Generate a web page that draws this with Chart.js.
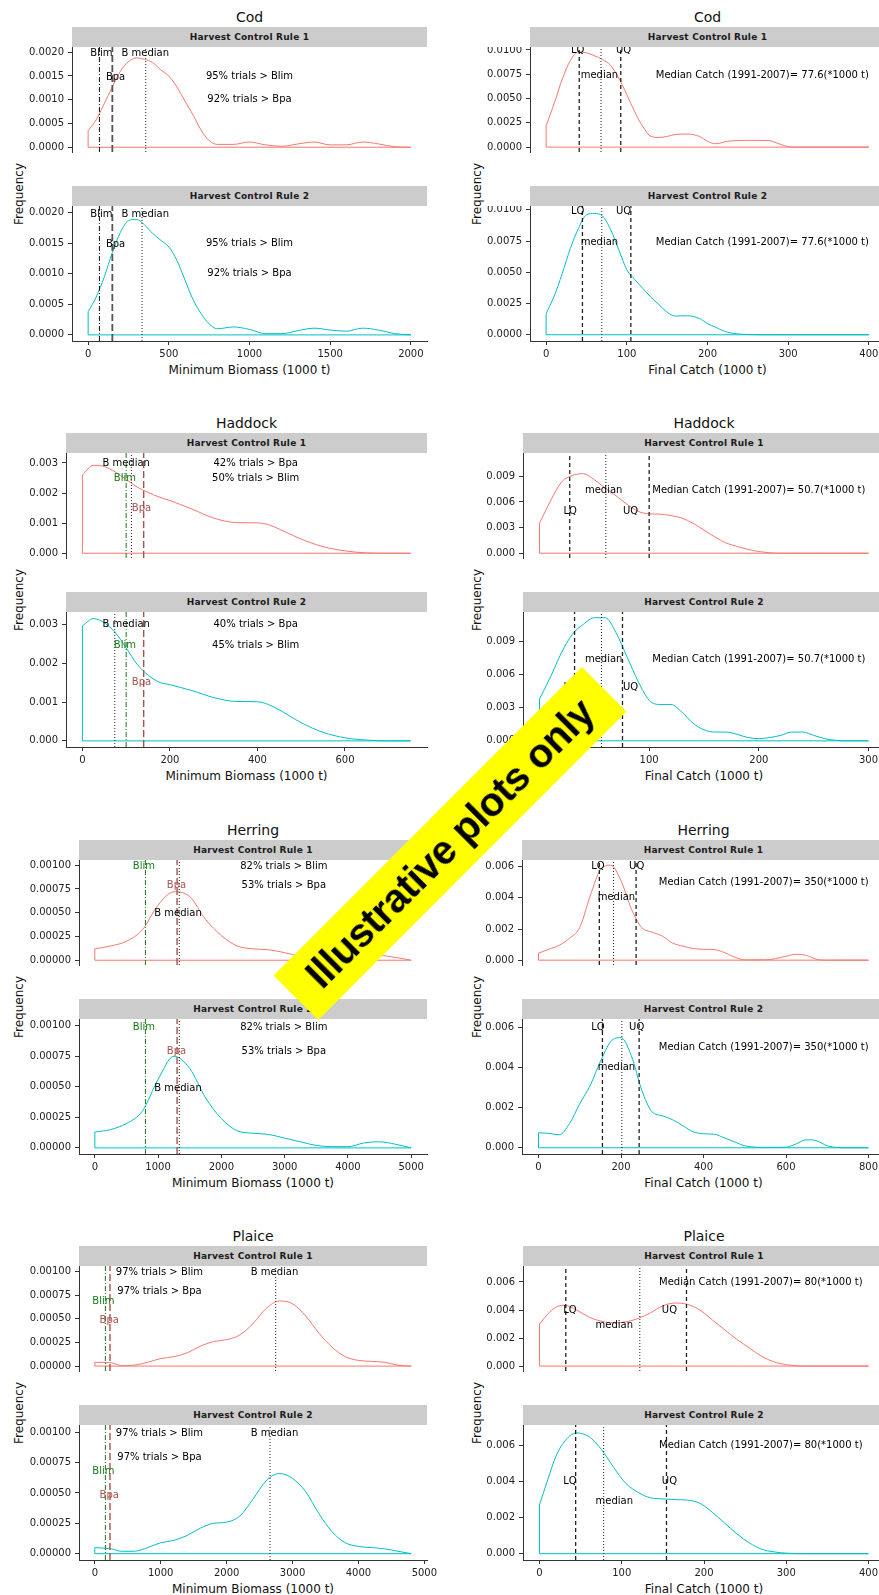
<!DOCTYPE html>
<html>
<head>
<meta charset="utf-8">
<script src="https://cdn.jsdelivr.net/npm/chart.js@4.4.0/dist/chart.umd.min.js"></script>
<style>
  html, body { margin: 0; padding: 0; background: #fff; overflow: hidden; }
  #wrap { position: relative; width: 879px; height: 1595px; overflow: hidden; font-family: "DejaVu Sans", sans-serif; }
  #wrap canvas { position: absolute; }
  .title { position: absolute; font-size: 14px; color: #111; transform: translate(-50%, -50%); white-space: nowrap; }
  .strip { position: absolute; height: 20px; background: #cccccc; color: #1a1a1a; font-size: 9px; font-weight: bold;
           display: flex; align-items: center; justify-content: center; letter-spacing: 0.2px; white-space: nowrap; }
  .ytitle { position: absolute; font-size: 12px; color: #111; transform: translate(-50%, -50%) rotate(-90deg); white-space: nowrap; }
  .xtitle { position: absolute; font-size: 12px; color: #111; transform: translate(-50%, -50%); white-space: nowrap; }
  #banner { position: absolute; left: 232px; top: 812px; width: 436px; height: 63px; background: #ffff00;
            transform: rotate(-45deg); font-family: "Liberation Sans", Arial, sans-serif; font-weight: bold;
            font-size: 40px; line-height: 63px; text-align: center; color: #000; white-space: nowrap; letter-spacing: -0.5px; }
</style>
</head>
<body>
<div id="wrap"></div>
<script>
// ---------------- data: density curves ----------------
// Cod
const codBioX = [0, 50, 100, 150, 200, 250, 300, 350, 400, 450, 500, 550, 600, 650, 700, 750, 800, 900, 1000, 1100, 1200, 1300, 1400, 1500, 1600, 1700, 1800, 1900, 2000];
const codBioHcr1 = [0.00035, 0.00058, 0.00092, 0.00127, 0.00160, 0.00180, 0.00188, 0.00185, 0.00178, 0.00163, 0.00150, 0.00127, 0.00097, 0.00068, 0.00036, 0.00014, 0.00006, 0.00006, 0.00011, 0.00005, 0.00002, 0.00007, 0.00011, 0.00005, 0.00005, 0.00011, 0.00007, 0.00001, 0];
const codBioHcr2 = [0.00038, 0.00062, 0.00095, 0.00135, 0.00168, 0.00187, 0.00189, 0.00180, 0.00166, 0.00155, 0.00144, 0.00122, 0.00090, 0.00058, 0.00035, 0.00018, 0.00010, 0.00013, 0.00009, 0.00002, 0.00002, 0.00007, 0.00011, 0.00008, 0.00006, 0.00011, 0.00008, 0.00002, 0];
const codCatchX = [0, 10, 20, 30, 40, 50, 60, 70, 80, 90, 100, 110, 120, 130, 140, 150, 160, 175, 190, 200, 210, 225, 250, 275, 290, 300, 310, 400];
const codCatchHcr1 = [0.0022, 0.0045, 0.0070, 0.0089, 0.0098, 0.0097, 0.0094, 0.0090, 0.0084, 0.0071, 0.0054, 0.0036, 0.0021, 0.0011, 0.0010, 0.0011, 0.0013, 0.00135, 0.0011, 0.0006, 0.00035, 0.0006, 0.0007, 0.00068, 0.0003, 0.00005, 0, 0];
const codCatchHcr2 = [0.0017, 0.0031, 0.0049, 0.0069, 0.0085, 0.0096, 0.0097, 0.0095, 0.0084, 0.0068, 0.0052, 0.0044, 0.0037, 0.0030, 0.0024, 0.0018, 0.0015, 0.00152, 0.0013, 0.0009, 0.0006, 0.0002, 0.00002, 0, 0, 0, 0, 0];

// Haddock
const hadBioX = [0, 25, 50, 75, 100, 125, 150, 175, 200, 250, 300, 350, 400, 425, 450, 500, 550, 600, 650, 700, 750];
const hadBioHcr1 = [0.0026, 0.00292, 0.00288, 0.0027, 0.00245, 0.0022, 0.00202, 0.00187, 0.00175, 0.00147, 0.00117, 0.00102, 0.00101, 0.00095, 0.0008, 0.00047, 0.00022, 0.00008, 0.00001, 0, 0];
const hadBioHcr2 = [0.00297, 0.00316, 0.00305, 0.0028, 0.0024, 0.00198, 0.0017, 0.00152, 0.00145, 0.0013, 0.00112, 0.00102, 0.00101, 0.00094, 0.0008, 0.00047, 0.00022, 0.00008, 0.00002, 0, 0];
const hadCatchX = [0, 10, 20, 30, 40, 50, 60, 70, 80, 90, 100, 110, 120, 130, 140, 150, 160, 170, 180, 190, 200, 210, 220, 230, 240, 250, 260, 270, 280, 300];
const hadCatchHcr1 = [0.0035, 0.0061, 0.0083, 0.0091, 0.0093, 0.0086, 0.0076, 0.0067, 0.0057, 0.0049, 0.0046, 0.00457, 0.0044, 0.0041, 0.0035, 0.0027, 0.0019, 0.0012, 0.0008, 0.00045, 0.0002, 0.00005, 0, 0, 0, 0, 0, 0, 0, 0];
const hadCatchHcr2 = [0.0038, 0.0058, 0.0080, 0.0097, 0.0106, 0.0112, 0.0112, 0.0098, 0.0076, 0.0054, 0.0037, 0.0033, 0.0033, 0.0026, 0.0016, 0.0010, 0.0008, 0.0008, 0.0006, 0.0003, 0.0002, 0.0003, 0.0005, 0.0008, 0.0008, 0.0005, 0.0002, 0.00005, 0, 0];

// Herring
const herBioX = [0, 250, 500, 750, 1000, 1250, 1500, 1750, 2000, 2250, 2500, 2750, 3000, 3250, 3500, 3750, 4000, 4250, 4500, 4750, 5000];
const herBioHcr1 = [0.00012, 0.00015, 0.0002, 0.00032, 0.00058, 0.00072, 0.00067, 0.00043, 0.00026, 0.00015, 0.00012, 0.00011, 0.00008, 0.00004, 0.00001, 0.00001, 0.00001, 0.00003, 0.00005, 0.00003, 0];
const herBioHcr2 = [0.00013, 0.00015, 0.0002, 0.0003, 0.00056, 0.00075, 0.00065, 0.00041, 0.00024, 0.00014, 0.00012, 0.00011, 0.00008, 0.00005, 0.00002, 0.00001, 0.00001, 0.00004, 0.00005, 0.00003, 0];
const herCatchX = [0, 25, 50, 75, 100, 125, 150, 175, 200, 225, 250, 275, 300, 325, 350, 375, 400, 425, 450, 475, 500, 550, 600, 625, 650, 675, 700, 750, 800];
const herCatchHcr1 = [0.00045, 0.0007, 0.00095, 0.0014, 0.0021, 0.0041, 0.0058, 0.0061, 0.0051, 0.0033, 0.0021, 0.0018, 0.00155, 0.0011, 0.0009, 0.00075, 0.0007, 0.00068, 0.0005, 0.0002, 0.00002, 0.00002, 0.00025, 0.00038, 0.0003, 0.00005, 0, 0, 0];
const herCatchHcr2 = [0.00075, 0.00072, 0.00065, 0.0012, 0.0022, 0.0031, 0.0043, 0.0053, 0.0055, 0.0046, 0.0029, 0.0018, 0.0016, 0.0014, 0.0011, 0.0008, 0.0007, 0.00068, 0.0005, 0.0003, 0.0001, 0.00002, 0.00003, 0.0002, 0.0004, 0.00035, 0.0001, 0, 0];

// Plaice
const plaBioX = [0, 250, 400, 600, 800, 1000, 1200, 1400, 1600, 1800, 2000, 2200, 2400, 2600, 2800, 3000, 3200, 3400, 3600, 3800, 4000, 4200, 4400, 4600, 4800];
const plaBioHcr1 = [0.00004, 0.000035, 0.000005, 0.00001, 0.00004, 0.00008, 0.0001, 0.00014, 0.00021, 0.00026, 0.00028, 0.00033, 0.00045, 0.00061, 0.00069, 0.00066, 0.00053, 0.00035, 0.0002, 0.0001, 0.00006, 0.00005, 0.00004, 0.00001, 0];
const plaBioHcr2 = [0.00005, 0.00004, 0.00002, 0.00002, 0.00005, 0.00009, 0.00011, 0.00015, 0.00021, 0.00025, 0.00026, 0.00031, 0.00045, 0.0006, 0.00066, 0.00062, 0.00051, 0.00033, 0.00018, 0.00009, 0.00006, 0.00005, 0.00004, 0.00002, 0];
const plaCatchX = [0, 10, 20, 30, 45, 60, 75, 90, 105, 120, 135, 150, 165, 180, 195, 210, 225, 240, 255, 270, 285, 300, 320, 400];
const plaCatchHcr1 = [0.0030, 0.0037, 0.0042, 0.00435, 0.0040, 0.0035, 0.0032, 0.00308, 0.00315, 0.0034, 0.0038, 0.0043, 0.0045, 0.0044, 0.0040, 0.0033, 0.0026, 0.0019, 0.0013, 0.0007, 0.0003, 0.0001, 0, 0];
const plaCatchHcr2 = [0.0027, 0.0041, 0.0054, 0.0062, 0.0067, 0.0065, 0.0058, 0.0048, 0.0039, 0.0034, 0.0031, 0.00304, 0.0030, 0.00297, 0.0028, 0.0023, 0.0017, 0.0011, 0.0006, 0.00025, 0.0001, 0.00003, 0, 0];

// reference lines, one value per rule [HCR1, HCR2]
const codBlim = [70, 70], codBpa = [150, 150], codBMedian = [357, 334];
const codLQ = [41, 45], codCatchMedian = [68, 69], codUQ = [92.5, 105];
const hadBlim = [100, 100], hadBpa = [140, 140], hadBMedian = [112, 74];
const hadLQ = [27.6, 32], hadCatchMedian = [60.5, 56.5], hadUQ = [100, 75.7];
const herBlim = [800, 800], herBpa = [1300, 1300], herBMedian = [1335, 1335];
const herLQ = [147.5, 155], herCatchMedian = [182, 202], herUQ = [236.6, 244];
const plaBlim = [160, 160], plaBpa = [230, 230], plaBMedian = [2744, 2658];
const plaLQ = [32, 44], plaCatchMedian = [122, 78], plaUQ = [178.7, 154.4];

// tick labels
const codBioXTicks = [0, 500, 1000, 1500, 2000];
const codBioYTicks = [0, 0.0005, 0.001, 0.0015, 0.002];
const codCatchXTicks = [0, 100, 200, 300, 400];
const codCatchYTicks = [0, 0.0025, 0.005, 0.0075, 0.01];
const hadBioXTicks = [0, 200, 400, 600];
const hadBioYTicks = [0, 0.001, 0.002, 0.003];
const hadCatchXTicks = [0, 100, 200, 300];
const hadCatchYTicks = [0, 0.003, 0.006, 0.009];
const herBioXTicks = [0, 1000, 2000, 3000, 4000, 5000];
const herBioYTicks = [0, 0.00025, 0.0005, 0.00075, 0.001];
const herCatchXTicks = [0, 200, 400, 600, 800];
const herCatchYTicks = [0, 0.002, 0.004, 0.006];
const plaBioXTicks = [0, 1000, 2000, 3000, 4000, 5000];
const plaBioYTicks = [0, 0.00025, 0.0005, 0.00075, 0.001];
const plaCatchXTicks = [0, 100, 200, 300, 400];
const plaCatchYTicks = [0, 0.002, 0.004, 0.006];

// text annotations [text, x, y] per rule
const codBioNotes = [['Blim', 82, 0.00198], ['B median', 354, 0.00198], ['Bpa', 170, 0.00148],
                     ['95% trials > Blim', 1000, 0.0015], ['92% trials > Bpa', 1000, 0.001]];
const codCatchNotes = [['LQ', 39, 0.0099], ['UQ', 96, 0.0099], ['median', 66, 0.0074],
                       ['Median Catch (1991-2007)= 77.6(*1000 t)', 268, 0.0074]];
const hadBioNotes1 = [['B median', 100, 0.003], ['Blim', 97, 0.00247], ['Bpa', 135, 0.0015],
                      ['42% trials > Bpa', 396, 0.003], ['50% trials > Blim', 396, 0.00247]];
const hadBioNotes2 = [['B median', 100, 0.003], ['Blim', 97, 0.00247], ['Bpa', 135, 0.0015],
                      ['40% trials > Bpa', 396, 0.003], ['45% trials > Blim', 396, 0.00247]];
const hadCatchNotes = [['median', 58.5, 0.0074], ['LQ', 28, 0.0049], ['UQ', 83, 0.0049],
                       ['Median Catch (1991-2007)= 50.7(*1000 t)', 200, 0.0074]];
const herBioNotes = [['Blim', 775, 0.00099], ['Bpa', 1290, 0.00079], ['B median', 1315, 0.00049],
                     ['82% trials > Blim', 2987, 0.00099], ['53% trials > Bpa', 2987, 0.00079]];
const herCatchNotes = [['LQ', 144, 0.006], ['UQ', 238, 0.006], ['median', 189, 0.004],
                       ['Median Catch (1991-2007)= 350(*1000 t)', 546, 0.005]];
const plaBioNotes = [['97% trials > Blim', 981, 0.00099], ['97% trials > Bpa', 981, 0.00079],
                     ['B median', 2727, 0.00099], ['Blim', 131, 0.00068], ['Bpa', 218, 0.00048]];
const plaCatchNotes = [['LQ', 37, 0.004], ['UQ', 158, 0.004], ['median', 91, 0.0029],
                       ['Median Catch (1991-2007)= 80(*1000 t)', 269, 0.006]];

// ---------------- layout and styles ----------------
const ROW_TOPS = [27, 433, 840, 1246];
const HCR_COLOURS = ['#F8766D', '#00BFC4'];
const FONT = '"DejaVu Sans", sans-serif';
const REF_STYLE = {
  blim:      { color: '#111111', dash: [5, 2, 1, 2], width: 1 },
  blimGreen: { color: '#177a17', dash: [5, 2, 1, 2], width: 1 },
  bpa:       { color: '#555555', dash: [7, 3], width: 1.8 },
  bpaBrown:  { color: '#a8524d', dash: [7, 3], width: 1.4 },
  median:    { color: '#222222', dash: [1, 2], width: 1 },
  quartile:  { color: '#222222', dash: [4, 3], width: 1.3 }
};
const NOTE_COLOURS = { Blim: '#177a17', Bpa: '#a8524d' };

const panels = [
  { title: 'Cod', row: 0, col: 0, plotLeft: 72, xTitle: 'Minimum Biomass (1000 t)',
    x: codBioX, curves: [codBioHcr1, codBioHcr2], xRange: [-100, 2100], yRange: [-0.0001, 0.00211],
    xTicks: codBioXTicks, yTicks: codBioYTicks, decimals: 4,
    refs: [[codBlim, 'blim'], [codBpa, 'bpa'], [codBMedian, 'median']],
    notes: [codBioNotes, codBioNotes], colourNotes: false },
  { title: 'Cod', row: 0, col: 1, plotLeft: 530, xTitle: 'Final Catch (1000 t)',
    x: codCatchX, curves: [codCatchHcr1, codCatchHcr2], xRange: [-20, 420], yRange: [-0.0005, 0.0103],
    xTicks: codCatchXTicks, yTicks: codCatchYTicks, decimals: 4,
    refs: [[codLQ, 'quartile'], [codCatchMedian, 'median'], [codUQ, 'quartile']],
    notes: [codCatchNotes, codCatchNotes], colourNotes: false },
  { title: 'Haddock', row: 1, col: 0, plotLeft: 66, xTitle: 'Minimum Biomass (1000 t)',
    x: hadBioX, curves: [hadBioHcr1, hadBioHcr2], xRange: [-37.5, 787.5], yRange: [-0.000158, 0.00333],
    xTicks: hadBioXTicks, yTicks: hadBioYTicks, decimals: 3,
    refs: [[hadBlim, 'blimGreen'], [hadBMedian, 'median'], [hadBpa, 'bpaBrown']],
    notes: [hadBioNotes1, hadBioNotes2], colourNotes: true },
  { title: 'Haddock', row: 1, col: 1, plotLeft: 523, xTitle: 'Final Catch (1000 t)',
    x: hadCatchX, curves: [hadCatchHcr1, hadCatchHcr2], xRange: [-15, 315], yRange: [-0.00056, 0.01172],
    xTicks: hadCatchXTicks, yTicks: hadCatchYTicks, decimals: 3,
    refs: [[hadLQ, 'quartile'], [hadCatchMedian, 'median'], [hadUQ, 'quartile']],
    notes: [hadCatchNotes, hadCatchNotes], colourNotes: false },
  { title: 'Herring', row: 2, col: 0, plotLeft: 79, xTitle: 'Minimum Biomass (1000 t)',
    x: herBioX, curves: [herBioHcr1, herBioHcr2], xRange: [-250, 5250], yRange: [-0.00005, 0.001055],
    xTicks: herBioXTicks, yTicks: herBioYTicks, decimals: 5,
    refs: [[herBlim, 'blimGreen'], [herBMedian, 'median'], [herBpa, 'bpaBrown']],
    notes: [herBioNotes, herBioNotes], colourNotes: true },
  { title: 'Herring', row: 2, col: 1, plotLeft: 522, xTitle: 'Final Catch (1000 t)',
    x: herCatchX, curves: [herCatchHcr1, herCatchHcr2], xRange: [-40, 840], yRange: [-0.00031, 0.00643],
    xTicks: herCatchXTicks, yTicks: herCatchYTicks, decimals: 3,
    refs: [[herLQ, 'quartile'], [herCatchMedian, 'median'], [herUQ, 'quartile']],
    notes: [herCatchNotes, herCatchNotes], colourNotes: false },
  { title: 'Plaice', row: 3, col: 0, plotLeft: 79, xTitle: 'Minimum Biomass (1000 t)',
    x: plaBioX, curves: [plaBioHcr1, plaBioHcr2], xRange: [-240, 5040], yRange: [-0.000052, 0.00106],
    xTicks: plaBioXTicks, yTicks: plaBioYTicks, decimals: 5,
    refs: [[plaBlim, 'blimGreen'], [plaBpa, 'bpaBrown'], [plaBMedian, 'median']],
    notes: [plaBioNotes, plaBioNotes], colourNotes: true },
  { title: 'Plaice', row: 3, col: 1, plotLeft: 523, xTitle: 'Final Catch (1000 t)',
    x: plaCatchX, curves: [plaCatchHcr1, plaCatchHcr2], xRange: [-20, 420], yRange: [-0.00035, 0.00714],
    xTicks: plaCatchXTicks, yTicks: plaCatchYTicks, decimals: 3,
    refs: [[plaLQ, 'quartile'], [plaCatchMedian, 'median'], [plaUQ, 'quartile']],
    notes: [plaCatchNotes, plaCatchNotes], colourNotes: false }
];

const wrap = document.getElementById('wrap');

// draws the annotation texts at data coordinates
const notesPlugin = {
  id: 'notes',
  afterDatasetsDraw(chart, args, opts) {
    const { ctx, scales: { x, y } } = chart;
    ctx.save();
    ctx.font = '10px ' + FONT;
    ctx.textAlign = 'center';
    ctx.textBaseline = 'middle';
    (opts.items || []).forEach(([text, vx, vy]) => {
      ctx.fillStyle = (opts.coloured && NOTE_COLOURS[text]) || '#000';
      ctx.fillText(text, x.getPixelForValue(vx), y.getPixelForValue(vy));
    });
    ctx.restore();
  }
};

function addDiv(cls, text, css) {
  const el = document.createElement('div');
  el.className = cls;
  el.textContent = text;
  Object.assign(el.style, css);
  wrap.appendChild(el);
  return el;
}

function buildFacet(p, rule) {
  const isBottom = rule === 1;
  const colLeft = p.col === 0 ? 0 : 440;
  const plotRight = p.col === 0 ? 427 : 885;
  const top = ROW_TOPS[p.row] + (rule === 0 ? 20 : 179);
  const canvas = document.createElement('canvas');
  canvas.width = plotRight - colLeft + 20;
  canvas.height = 135 + (isBottom ? 30 : 0);
  canvas.style.left = colLeft + 'px';
  canvas.style.top = top + 'px';
  wrap.appendChild(canvas);

  const [ymin, ymax] = p.yRange;
  const ys = p.curves[rule];
  const n = p.x.length;
  const colour = HCR_COLOURS[rule];

  const datasets = [];
  p.refs.forEach(([values, styleName]) => {
    const st = REF_STYLE[styleName];
    datasets.push({
      data: [{ x: values[rule], y: ymin }, { x: values[rule], y: ymax }],
      showLine: true, borderColor: st.color, borderWidth: st.width, borderDash: st.dash,
      pointRadius: 0, tension: 0
    });
  });
  // density curve
  datasets.push({
    data: p.x.map((v, i) => ({ x: v, y: ys[i] })),
    showLine: true, borderColor: colour, borderWidth: 1, pointRadius: 0,
    tension: 0.4, cubicInterpolationMode: 'monotone'
  });
  // closing edge: left side and base of the density polygon
  datasets.push({
    data: [{ x: p.x[n - 1], y: 0 }, { x: p.x[0], y: 0 }, { x: p.x[0], y: ys[0] }],
    showLine: true, borderColor: colour, borderWidth: 1, pointRadius: 0, tension: 0
  });

  const tickFont = { family: FONT, size: 10 };
  new Chart(canvas, {
    type: 'scatter',
    data: { datasets },
    plugins: [notesPlugin],
    options: {
      responsive: false,
      animation: false,
      devicePixelRatio: 1,
      layout: { autoPadding: false, padding: { left: 0, top: 0, bottom: 0, right: 20 } },
      scales: {
        x: {
          type: 'linear', min: p.xRange[0], max: p.xRange[1], display: isBottom,
          afterBuildTicks: s => { s.ticks = p.xTicks.map(v => ({ value: v })); },
          afterFit: s => { s.height = 30; s.paddingLeft = 0; s.paddingRight = 0; },
          grid: { drawOnChartArea: false, drawTicks: true, tickLength: 4, tickColor: '#333', color: '#333' },
          border: { display: true, color: '#333', width: 1 },
          ticks: { font: tickFont, color: '#222', padding: 3, maxRotation: 0, autoSkip: false,
                   callback: v => String(v) }
        },
        y: {
          type: 'linear', min: ymin, max: ymax,
          afterBuildTicks: s => { s.ticks = p.yTicks.map(v => ({ value: v })); },
          afterFit: s => { s.width = p.plotLeft - colLeft; s.paddingTop = 0; s.paddingBottom = 0; },
          grid: { drawOnChartArea: false, drawTicks: true, tickLength: 4, tickColor: '#333', color: '#333' },
          border: { display: true, color: '#333', width: 1 },
          ticks: { font: tickFont, color: '#222', padding: 4, autoSkip: false,
                   callback: v => Number(v).toFixed(p.decimals) }
        }
      },
      plugins: {
        legend: { display: false },
        tooltip: { enabled: false },
        notes: { items: p.notes[rule], coloured: p.colourNotes }
      }
    }
  });
}

panels.forEach(p => {
  const S = ROW_TOPS[p.row];
  const plotRight = p.col === 0 ? 427 : 885;
  const centre = (p.plotLeft + plotRight) / 2;
  addDiv('title', p.title, { left: centre + 'px', top: (S - 10) + 'px' });
  addDiv('strip', 'Harvest Control Rule 1', { left: p.plotLeft + 'px', top: S + 'px', width: (plotRight - p.plotLeft) + 'px' });
  addDiv('strip', 'Harvest Control Rule 2', { left: p.plotLeft + 'px', top: (S + 159) + 'px', width: (plotRight - p.plotLeft) + 'px' });
  addDiv('ytitle', 'Frequency', { left: (p.col === 0 ? 18.5 : 476.5) + 'px', top: (S + 166.5) + 'px' });
  addDiv('xtitle', p.xTitle, { left: centre + 'px', top: (S + 343) + 'px' });
  buildFacet(p, 0);
  buildFacet(p, 1);
});

addDiv('', 'Illustrative plots only', {}).id = 'banner';
</script>
</body>
</html>
